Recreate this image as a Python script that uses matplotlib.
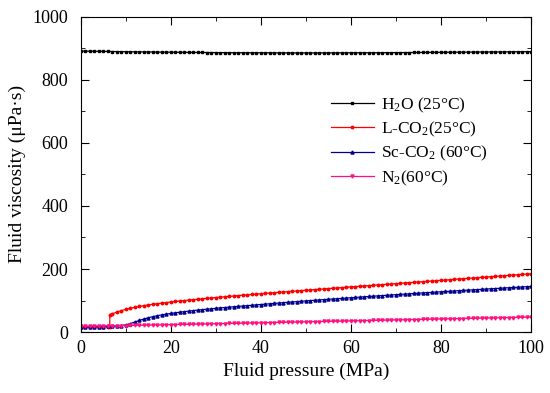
import numpy as np
import matplotlib
matplotlib.use('Agg')
import matplotlib.pyplot as plt

plt.rcParams['font.family'] = 'Liberation Serif'
plt.rcParams['mathtext.fontset'] = 'custom'
plt.rcParams['mathtext.rm'] = 'Liberation Serif'
plt.rcParams['mathtext.it'] = 'Liberation Serif:italic'

# pressure grid (MPa)
p = np.arange(0, 101, 1)

# H2O at 25 C
h2o = [891.0, 890.8, 890.6, 890.4, 890.2, 890.0, 889.8, 889.6, 889.4, 889.2,
       889.0, 888.8, 888.6, 888.5, 888.3, 888.1, 888.0, 887.8, 887.7, 887.5,
       887.4, 887.2, 887.1, 887.0, 886.8, 886.7, 886.6, 886.5, 886.4, 886.3,
       886.2, 886.1, 886.0, 885.9, 885.8, 885.8, 885.7, 885.6, 885.6, 885.5,
       885.5, 885.4, 885.4, 885.3, 885.3, 885.3, 885.2, 885.2, 885.2, 885.2,
       885.2, 885.2, 885.2, 885.2, 885.2, 885.3, 885.3, 885.3, 885.4, 885.4,
       885.5, 885.5, 885.6, 885.6, 885.7, 885.8, 885.8, 885.9, 886.0, 886.1,
       886.2, 886.2, 886.3, 886.4, 886.5, 886.6, 886.7, 886.8, 886.9, 887.0,
       887.1, 887.2, 887.3, 887.4, 887.5, 887.6, 887.7, 887.8, 887.9, 888.0,
       888.1, 888.2, 888.3, 888.4, 888.5, 888.6, 888.7, 888.8, 888.9, 889.0,
       889.1]

# liquid CO2 at 25 C (phase change at ~6.43 MPa)
p_lco2 = [0, 1, 2, 3, 4, 5, 6, 6.43, 6.43] + list(range(7, 101))
lco2 = [15.0, 15.1, 15.3, 15.5, 15.8, 16.2, 16.8, 17.2, 55.5,
        58.0, 63.5, 68.0, 72.0, 75.5, 78.5, 81.3, 83.8, 86.0, 88.1,
        90.0, 91.9, 93.7, 95.4, 97.0, 98.5, 100.0, 101.5, 102.9, 104.3,
        105.7, 107.0, 108.3, 109.6, 110.9, 112.1, 113.3, 114.5, 115.7, 116.9,
        118.1, 119.3, 120.4, 121.6, 122.7, 123.8, 124.9, 126.0, 127.1, 128.2,
        129.3, 130.4, 131.5, 132.6, 133.7, 134.7, 135.8, 136.8, 137.9, 138.9,
        140.0, 141.0, 142.1, 143.2, 144.2, 145.3, 146.3, 147.4, 148.4, 149.5,
        150.5, 151.6, 152.6, 153.6, 154.7, 155.7, 156.8, 157.8, 158.9, 159.9,
        161.0, 162.0, 163.1, 164.1, 165.1, 166.2, 167.2, 168.3, 169.3, 170.4,
        171.4, 172.4, 173.5, 174.5, 175.5, 176.6, 177.6, 178.7, 179.7, 180.8,
        181.8, 182.9, 183.9, 185.0]

# supercritical CO2 at 60 C
scco2 = [16.5, 16.6, 16.8, 17.0, 17.3, 17.6, 18.0, 18.6, 19.4, 20.8,
         23.0, 27.0, 32.0, 37.0, 41.5, 45.5, 49.0, 52.0, 54.6, 57.0,
         59.2, 61.2, 63.1, 64.9, 66.6, 68.2, 69.7, 71.2, 72.6, 74.0,
         75.4, 76.7, 77.9, 79.1, 80.3, 81.5, 82.7, 83.9, 85.1, 86.3,
         87.4, 88.6, 89.8, 91.0, 92.1, 93.3, 94.4, 95.5, 96.7, 97.8,
         98.9, 99.9, 100.9, 101.9, 102.9, 103.9, 104.9, 105.9, 106.9, 107.9,
         108.9, 109.9, 110.9, 111.9, 112.9, 113.9, 114.8, 115.8, 116.7, 117.7,
         118.6, 119.6, 120.5, 121.4, 122.4, 123.3, 124.2, 125.1, 126.0, 126.9,
         127.8, 128.7, 129.6, 130.4, 131.3, 132.2, 133.0, 133.9, 134.7, 135.6,
         136.4, 137.3, 138.1, 138.9, 139.8, 140.6, 141.4, 142.2, 143.0, 143.9,
         144.7]

# N2 at 60 C
n2 = [18.5, 18.7, 18.9, 19.1, 19.4, 19.6, 19.8, 20.1, 20.3, 20.6,
      20.8, 21.1, 21.4, 21.6, 21.9, 22.2, 22.4, 22.7, 23.0, 23.2,
      23.5, 23.8, 24.1, 24.4, 24.6, 24.9, 25.2, 25.5, 25.8, 26.1,
      26.4, 26.7, 27.0, 27.3, 27.6, 27.9, 28.2, 28.5, 28.8, 29.1,
      29.4, 29.7, 30.0, 30.3, 30.6, 30.9, 31.2, 31.5, 31.8, 32.1,
      32.4, 32.7, 33.0, 33.3, 33.6, 33.9, 34.2, 34.5, 34.8, 35.1,
      35.4, 35.7, 36.0, 36.3, 36.6, 36.9, 37.2, 37.5, 37.8, 38.1,
      38.4, 38.7, 39.0, 39.3, 39.6, 39.9, 40.2, 40.5, 40.8, 41.1,
      41.4, 41.7, 42.0, 42.3, 42.6, 42.9, 43.2, 43.5, 43.8, 44.1,
      44.4, 44.7, 45.0, 45.3, 45.6, 45.9, 46.2, 46.5, 46.8, 47.1,
      47.4]

fig = plt.figure(figsize=(5.5, 3.93), dpi=100)
ax = fig.add_axes([0.147, 0.155, 0.8185, 0.8025])

ax.plot(p, h2o, color='black', marker='s', ms=1.6, lw=0.9, label='H$_2$O (25°C)')
ax.plot(p_lco2, lco2, color='#ff0000', marker='o', ms=1.8, lw=0.9, label='L-CO$_2$(25°C)')
ax.plot(p, scco2, color='#000090', marker='^', ms=2.2, lw=0.9, label='Sc-CO$_2$ (60°C)')
ax.plot(p, n2, color='#ff0f80', marker='v', ms=2.2, lw=0.9, label='N$_2$(60°C)')

ax.set_xlim(0, 100)
ax.set_ylim(0, 1000)
ax.set_xticks(np.arange(0, 101, 20))
ax.set_xticks(np.arange(0, 101, 10), minor=True)
ax.set_yticks(np.arange(0, 1001, 200))
ax.set_yticks(np.arange(0, 1001, 100), minor=True)
ax.tick_params(which='both', direction='in', top=True, right=True, labelsize=13)
ax.tick_params(axis='y', pad=9)
ax.tick_params(axis='x', pad=6)
ax.tick_params(which='major', length=6)
ax.tick_params(which='minor', length=3)

ax.set_xlabel('Fluid pressure (MPa)', fontsize=14, labelpad=4)
ax.set_ylabel('Fluid viscosity (μPa·s)', fontsize=14, labelpad=5)

ax.legend(loc='upper left', bbox_to_anchor=(0.52, 0.8), frameon=False,
          fontsize=12.5, handlelength=2.5, labelspacing=0.3, handletextpad=0.4)

fig.savefig('out.png', dpi=100)
